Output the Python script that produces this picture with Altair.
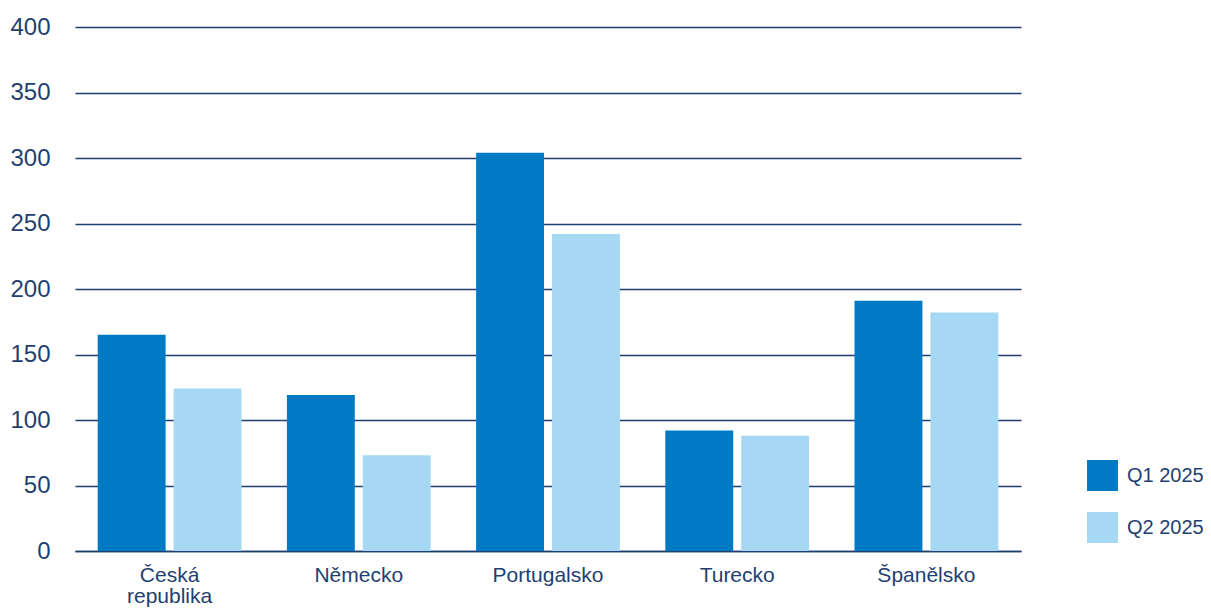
import altair as alt
import pandas as pd

countries = ["Česká republika", "Německo", "Portugalsko", "Turecko", "Španělsko"]
q1 = [165, 119, 304, 92, 191]
q2 = [124, 73, 242, 88, 182]
series = ["Q1 2025", "Q2 2025"]
y_ticks = [0, 50, 100, 150, 200, 250, 300, 350, 400]

rows = []
for c, a, b in zip(countries, q1, q2):
    rows.append({"country": c, "series": series[0], "value": a})
    rows.append({"country": c, "series": series[1], "value": b})
df = pd.DataFrame(rows)

navy = "#1f3f70"
font = "Liberation Sans"

chart = alt.Chart(df).mark_bar().encode(
    x=alt.X("country:N", sort=countries, title=None,
            scale=alt.Scale(paddingInner=0.24, paddingOuter=0.12),
            axis=alt.Axis(labelAngle=0, labelFontSize=21, labelColor=navy, labelFont=font,
                          labelPadding=13, ticks=False, domainColor=navy, domainWidth=1.6,
                          labelExpr="split(datum.label, ' ')", labelLineHeight=21)),
    xOffset=alt.XOffset("series:N", sort=series,
                        scale=alt.Scale(paddingInner=0.105, paddingOuter=0)),
    y=alt.Y("value:Q", title=None,
            scale=alt.Scale(domain=[0, 400], nice=False),
            axis=alt.Axis(values=y_ticks, labelFontSize=24, labelColor=navy, labelFont=font,
                          labelPadding=25, ticks=False, domain=False,
                          gridColor=navy, gridWidth=1.3)),
    color=alt.Color("series:N", sort=series,
                    scale=alt.Scale(domain=series, range=["#007bc3", "#a6d8f3"]),
                    legend=alt.Legend(title=None, orient="none", legendX=1012, legendY=433,
                                      symbolType="square", symbolSize=961, symbolStrokeWidth=0,
                                      labelFontSize=20, labelColor=navy, labelFont=font,
                                      rowPadding=21, labelOffset=9)),
).properties(
    width=946, height=524,
    autosize=alt.AutoSizeParams(type="none"),
    padding={"left": 67, "top": 19, "right": 182, "bottom": 57},
).configure_view(stroke=None)

chart.save("out.html", embed_options={"renderer": "svg", "actions": False})
